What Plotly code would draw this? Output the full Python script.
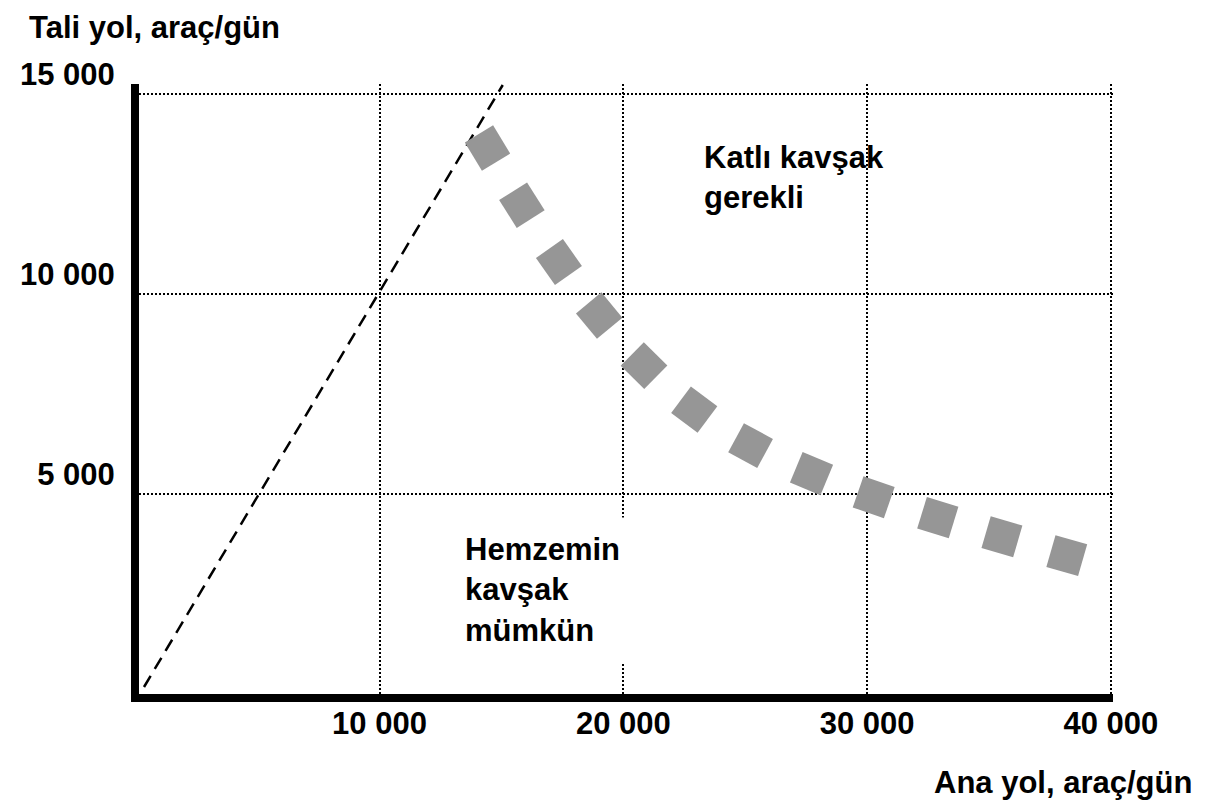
import numpy as np
import plotly.graph_objects as go

# ---- data ----
ana_yol = [14430, 15840, 17360, 19010, 20850, 22910, 25220, 27720, 30270, 32900, 35530, 38190]
tali_yol = [13650, 12220, 10800, 9460, 8210, 7110, 6210, 5510, 4920, 4410, 3930, 3460]
esit_x = [340, 15055]
esit_y = [175, 15225]
x_ticks = [10000, 20000, 30000, 40000]
x_tick_labels = ["10 000", "20 000", "30 000", "40 000"]
y_ticks = [5000, 10000, 15000]
y_tick_labels = ["5 000", "10 000", "15 000"]

# ---- layout constants (page body has an 8px margin) ----
OFF = 8
W, H = 1208 - OFF, 800 - OFF
ML, MR, MT, MB = 125, 95, 76, 106
XR = [135, 40086]
YR = [0, 15250]
PW, PH = W - ML - MR, H - MT - MB
kx = PW / (XR[1] - XR[0])
ky = PH / (YR[1] - YR[0])

# marker rotation follows the curve direction (in screen pixels)
xa = np.array(ana_yol, dtype=float)
ya = np.array(tali_yol, dtype=float)
dx = np.gradient(xa) * kx
dy = -np.gradient(ya) * ky
angles = np.degrees(np.arctan2(dy, dx))

FONT = "Liberation Sans, Arial, sans-serif"

fig = go.Figure()
fig.add_trace(go.Scatter(
    x=esit_x, y=esit_y, mode="lines",
    line=dict(color="black", width=2.5, dash="13px,8px"),
    hoverinfo="skip", showlegend=False))
fig.add_trace(go.Scatter(
    x=ana_yol, y=tali_yol, mode="markers",
    marker=dict(symbol="square", size=33, color="#969696", angle=angles,
                line=dict(width=0)),
    showlegend=False))

def px_x(p):
    return (p - OFF - ML) / PW

def px_y(p):
    return (H - MB - (p - OFF)) / PH

annots = [
    dict(text="Tali yol, araç/gün", x=px_x(20), y=px_y(8), xanchor="left", yanchor="top"),
    dict(text="Ana yol, araç/gün", x=px_x(1195), y=px_y(763), xanchor="right", yanchor="top"),
    dict(text="Katlı kavşak<br>gerekli", x=px_x(699), y=px_y(138), xanchor="left", yanchor="top",
         align="left"),
    dict(text="Hemzemin<br>kavşak<br>mümkün", x=px_x(446), y=px_y(517), xanchor="left", yanchor="top",
         align="left", bgcolor="white", borderpad=14),
]
for a in annots:
    a.setdefault("borderpad", 1)
    fig.add_annotation(xref="paper", yref="paper", showarrow=False,
                       font=dict(family=FONT, size=31, color="black", weight="bold"), **a)

fig.update_layout(
    width=W, height=H,
    margin=dict(l=ML, r=MR, t=MT, b=MB),
    paper_bgcolor="white", plot_bgcolor="white",
    font=dict(family=FONT, size=31, color="black", weight="bold"),
    showlegend=False,
)
fig.update_xaxes(
    range=XR, tickvals=x_ticks, ticktext=x_tick_labels,
    showgrid=True, gridcolor="black", gridwidth=2, griddash="2px,2px",
    showline=True, linecolor="black", linewidth=8, zeroline=False,
    ticks="", ticklabelstandoff=-5,
    tickfont=dict(family=FONT, size=31, color="black", weight="bold"),
)
fig.update_yaxes(
    range=YR, tickvals=y_ticks, ticktext=y_tick_labels,
    showgrid=True, gridcolor="black", gridwidth=2, griddash="2px,2px",
    showline=True, linecolor="black", linewidth=8, zeroline=False,
    ticks="", ticklabelstandoff=10, ticklabelshift=-20,
    tickfont=dict(family=FONT, size=31, color="black", weight="bold"),
)

fig.write_html("out.html")
